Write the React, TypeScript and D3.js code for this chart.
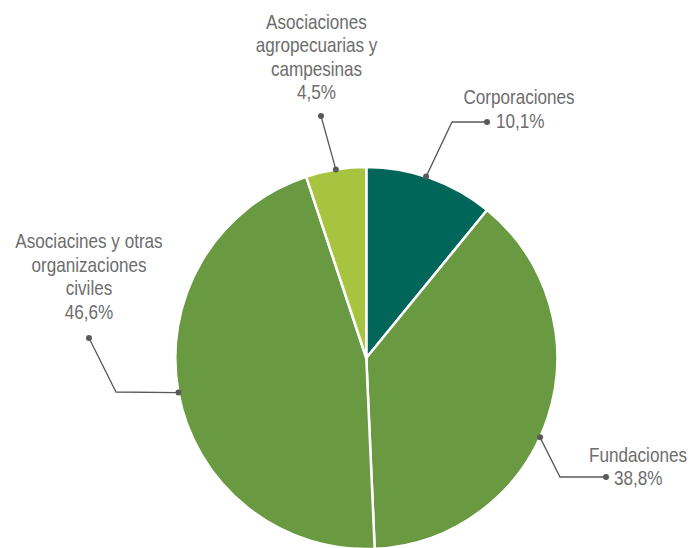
import React from 'react'
import * as d3 from 'd3'

// clockwise from 12 o'clock
const categories = [
  'Corporaciones',
  'Fundaciones',
  'Asociacines y otras organizaciones civiles',
  'Asociaciones agropecuarias y campesinas',
]
const sliceShares = [10.9, 38.4, 45.6, 5.1]
const valueLabels = ['10,1%', '38,8%', '46,6%', '4,5%']
const labelLines = [
  ['Corporaciones'],
  ['Fundaciones'],
  ['Asociacines y otras', 'organizaciones', 'civiles'],
  ['Asociaciones', 'agropecuarias y', 'campesinas'],
]
const colors = ['#00665a', '#699a42', '#699a42', '#a6c440']

const width = 691
const height = 548
const cx = 366.3
const cy = 358
const radius = 191

// leader layout per label: angle tweak where it leaves the pie, elbow, end dot, text block
const leaders = [
  { da: -0.024, elbow: [452, 122], end: [487, 122], text: [519, 104], valueX: 496, valueAnchor: 'start' },
  { da: 0.108, elbow: [560, 477], end: [606, 477], text: [638, 461.5], valueX: 614, valueAnchor: 'start' },
  { da: 0, elbow: [116, 392], end: [89, 338], text: [89, 248], valueX: 89, valueAnchor: 'middle' },
  { da: 0, elbow: null, end: [321, 116], text: [316.5, 28.5], valueX: 316.5, valueAnchor: 'middle' },
]

export default function App() {
  const pie = d3.pie<number>().sort(null).value(d => d)
  const arcs = pie(sliceShares)
  const arc = d3.arc<d3.PieArcDatum<number>>().innerRadius(0).outerRadius(radius)
  const lineH = 23.6
  const font = "'Liberation Sans', Arial, sans-serif"
  const sx = 0.815

  return (
    <svg width={width} height={height} style={{ position: 'absolute', left: 0, top: 0, background: '#fff' }}>
      <g transform={`translate(${cx},${cy})`}>
        {arcs.map((a, i) => (
          <path key={categories[i]} d={arc(a) || ''} fill={colors[i]} stroke="#fff" strokeWidth={2.5} strokeLinejoin="round" />
        ))}
      </g>
      {arcs.map((a, i) => {
        const l = leaders[i]
        const ang = (a.startAngle + a.endAngle) / 2 + l.da
        const px = cx + radius * Math.sin(ang)
        const py = cy - radius * Math.cos(ang)
        const pts = [[px, py], ...(l.elbow ? [l.elbow] : []), l.end]
        const lines = labelLines[i]
        return (
          <g key={categories[i]}>
            <polyline points={pts.map(p => p.join(',')).join(' ')} fill="none" stroke="#595959" strokeWidth={1.3} />
            <circle cx={px} cy={py} r={3} fill="#595959" />
            <circle cx={l.end[0]} cy={l.end[1]} r={3} fill="#595959" />
            <g fontFamily={font} fontSize={21} fill="#6d6d6d">
              {lines.map((t, j) => (
                <text key={j} transform={`translate(${l.text[0]},${l.text[1] + j * lineH}) scale(${sx},1)`} textAnchor="middle">{t}</text>
              ))}
              <text transform={`translate(${l.valueX},${l.text[1] + lines.length * lineH}) scale(${sx},1)`} textAnchor={l.valueAnchor}>
                {valueLabels[i]}
              </text>
            </g>
          </g>
        )
      })}
    </svg>
  )
}
